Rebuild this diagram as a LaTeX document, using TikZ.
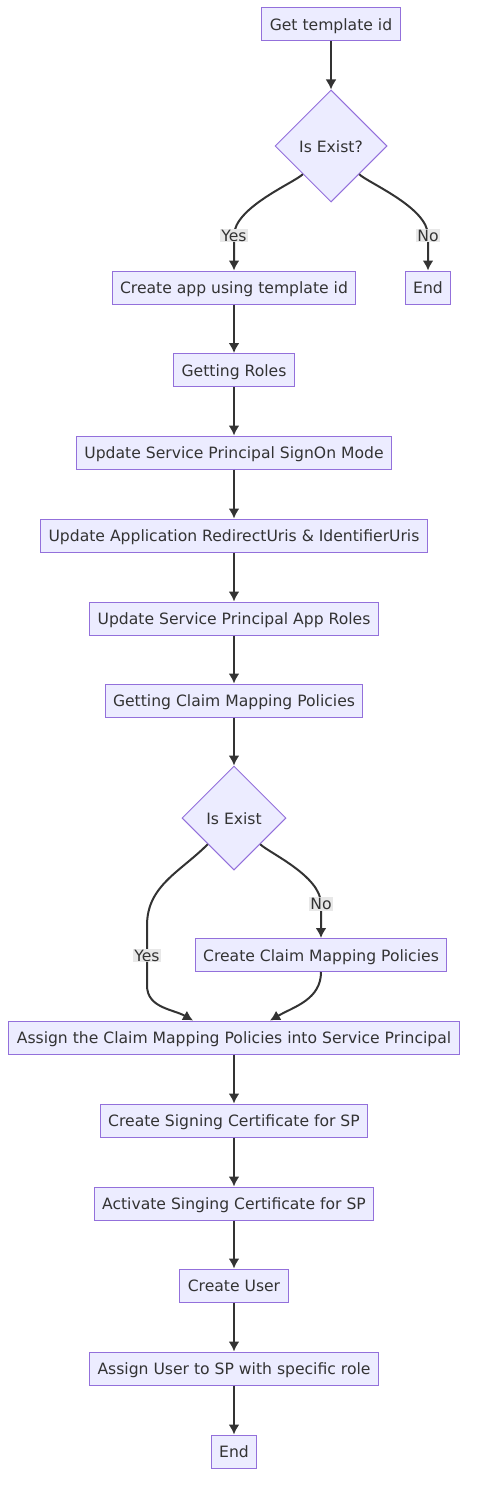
\documentclass[tikz,border=0pt]{standalone}
\usepackage{fontspec}
\setmainfont{DejaVu Sans}
\usetikzlibrary{shapes.geometric,arrows.meta}
\definecolor{boxfill}{HTML}{ECECFF}
\definecolor{boxline}{HTML}{9370DB}
\definecolor{inktext}{HTML}{333333}
\definecolor{lblfill}{HTML}{E8E8E8}

\begin{document}
\begin{tikzpicture}[x=1pt,y=1pt,
    font=\fontsize{15.6}{19}\selectfont,
    every node/.style={text=inktext},
    stepbox/.style={draw=boxline,fill=boxfill,line width=1pt,minimum height=33pt,inner xsep=8pt,inner ysep=0pt,text height=12.5pt,text depth=0pt},
    choice/.style={diamond,aspect=1,draw=boxline,fill=boxfill,line width=1pt,inner sep=0pt,text height=12.5pt,text depth=0pt},
    flow/.style={draw=inktext,line width=2pt,-{Latex[length=10pt,width=11pt]}},
    elbow/.style={out distance=12pt,in distance=28pt},
    answer/.style={fill=lblfill,inner sep=1pt}]
    \useasboundingbox (0,0) rectangle (477,-1501);
    \node[stepbox] (template) at (331,-24.5) {Get template id};
    \node[choice,minimum size=112pt] (exists) at (331,-146) {Is Exist?};
    \node[stepbox] (createapp) at (234,-287.5) {Create app using template id};
    \node[stepbox] (stopearly) at (428,-287.5) {End};
    \node[stepbox] (roles) at (234,-370) {Getting Roles};
    \node[stepbox] (signon) at (234,-452.5) {Update Service Principal SignOn Mode};
    \node[stepbox] (uris) at (234,-535.5) {Update Application RedirectUris \& IdentifierUris};
    \node[stepbox] (approles) at (234,-618.5) {Update Service Principal App Roles};
    \node[stepbox] (getclaims) at (234,-700.5) {Getting Claim Mapping Policies};
    \node[choice,minimum size=104pt] (claimexists) at (234,-818) {Is Exist};
    \node[stepbox] (createclaims) at (321,-955) {Create Claim Mapping Policies};
    \node[stepbox] (assignclaims) at (234,-1037.5) {Assign the Claim Mapping Policies into Service Principal};
    \node[stepbox] (signcert) at (234,-1120.5) {Create Signing Certificate for SP};
    \node[stepbox] (activecert) at (234,-1203.5) {Activate Singing Certificate for SP};
    \node[stepbox] (newuser) at (234,-1285.5) {Create User};
    \node[stepbox] (assignuser) at (234,-1368.5) {Assign User to SP with specific role};
    \node[stepbox] (stop) at (234,-1451.5) {End};

    \draw[flow] (template) -- (exists);
    \draw[flow] (exists.south west) to[out=-135,in=90,elbow] ([yshift=35pt]createapp.north) node[answer] {Yes} -- (createapp.north);
    \draw[flow] (exists.south east) to[out=-45,in=90,elbow] ([yshift=35pt]stopearly.north) node[answer] {No} -- (stopearly.north);
    \draw[flow] (createapp) -- (roles);
    \draw[flow] (roles) -- (signon);
    \draw[flow] (signon) -- (uris);
    \draw[flow] (uris) -- (approles);
    \draw[flow] (approles) -- (getclaims);
    \draw[flow] (getclaims) -- (claimexists);
    \draw[flow] (claimexists.south west) to[out=-135,in=90] ([xshift=-87pt,yshift=-55pt]claimexists.south)
        -- node[answer] {Yes} ([xshift=-87pt,yshift=-115pt]claimexists.south)
        to[out=-90,in=150] ([xshift=-41pt]assignclaims.north);
    \draw[flow] (claimexists.south east) to[out=-45,in=90,elbow] ([yshift=34pt]createclaims.north) node[answer] {No} -- (createclaims.north);
    \draw[flow] (createclaims.south) to[out=-90,in=30] ([xshift=36pt]assignclaims.north);
    \draw[flow] (assignclaims) -- (signcert);
    \draw[flow] (signcert) -- (activecert);
    \draw[flow] (activecert) -- (newuser);
    \draw[flow] (newuser) -- (assignuser);
    \draw[flow] (assignuser) -- (stop);
\end{tikzpicture}
\end{document}
